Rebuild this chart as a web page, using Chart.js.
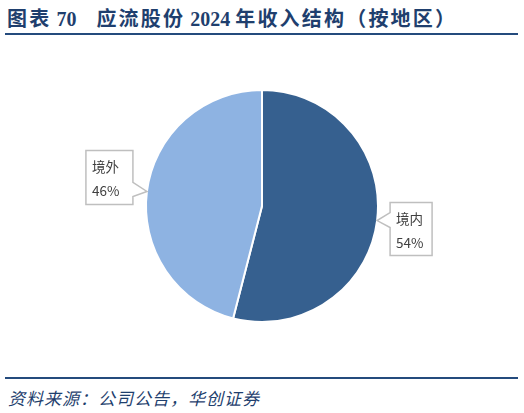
<!DOCTYPE html>
<html>
<head>
<meta charset="utf-8">
<script src="https://cdn.jsdelivr.net/npm/chart.js@4.4.1/dist/chart.umd.min.js"></script>
<style>
  html, body { margin: 0; padding: 0; background: #fff; }
  body { width: 524px; height: 413px; position: relative; overflow: hidden; }
  .title {
    position: absolute; left: 7px; top: 3px; white-space: nowrap;
    font-family: "Liberation Serif", "Noto Sans CJK SC", serif;
    font-weight: bold; font-size: 20px; color: #1f3f6e;
  }
  .title .cjk { font-family: "Noto Sans CJK SC", sans-serif; letter-spacing: 2.2px; }
  .rule { position: absolute; left: 5px; width: 513px; height: 2px; background: #244b7d; }
  .source {
    position: absolute; left: 8px; top: 385px; white-space: nowrap;
    font-family: "Noto Sans CJK SC", sans-serif; font-style: italic;
    font-size: 17px; letter-spacing: 1px; color: #1f3f6e;
  }
  #wrap { position: absolute; left: 0; top: 40px; width: 524px; height: 332px; }
</style>
</head>
<body>
<div class="title"><span class="cjk">图表</span>&nbsp;70&nbsp;&nbsp;&nbsp;&nbsp;<span class="cjk">应流股份</span>&nbsp;2024&nbsp;<span class="cjk">年收入结构（按地区）</span></div>
<div class="rule" style="top:33px"></div>
<div id="wrap"><canvas id="myChart"></canvas></div>
<div class="rule" style="top:377px"></div>
<div class="source">资料来源：公司公告，华创证券</div>
<script>
var categories = ['境内', '境外'];
var shares = [54, 46];
var colors = ['#36608f', '#8eb3e2'];

// callout boxes: offset of box from the slice edge point, and size
var boxStyle = [
  { dx: 13, dy: -18, w: 42, h: 53, side: 'right' },
  { dx: -14, dy: -41, w: 47, h: 54, side: 'left' }
];

var calloutPlugin = {
  id: 'callouts',
  afterDatasetsDraw: function (chart) {
    var ctx = chart.ctx;
    var meta = chart.getDatasetMeta(0);
    meta.data.forEach(function (arc, i) {
      var mid = (arc.startAngle + arc.endAngle) / 2;
      var tx = arc.x + Math.cos(mid) * arc.outerRadius;
      var ty = arc.y + Math.sin(mid) * arc.outerRadius;
      var s = boxStyle[i];
      var left = s.side === 'right' ? tx + s.dx : tx + s.dx - s.w;
      var top = ty + s.dy;
      var py = ty - top;
      ctx.save();
      ctx.beginPath();
      if (s.side === 'right') {
        ctx.moveTo(left, top);
        ctx.lineTo(left + s.w, top);
        ctx.lineTo(left + s.w, top + s.h);
        ctx.lineTo(left, top + s.h);
        ctx.lineTo(left, top + py + 7);
        ctx.lineTo(tx, ty);
        ctx.lineTo(left, top + py - 8);
        ctx.closePath();
      } else {
        ctx.moveTo(left, top);
        ctx.lineTo(left + s.w, top);
        ctx.lineTo(left + s.w, top + py - 9);
        ctx.lineTo(tx, ty);
        ctx.lineTo(left + s.w, top + py + 5);
        ctx.lineTo(left + s.w, top + s.h);
        ctx.lineTo(left, top + s.h);
        ctx.closePath();
      }
      ctx.fillStyle = '#ffffff';
      ctx.fill();
      ctx.lineWidth = 1.5;
      ctx.strokeStyle = '#bfbfbf';
      ctx.stroke();
      ctx.fillStyle = '#404040';
      ctx.font = '13.5px "Noto Sans CJK SC", sans-serif';
      ctx.textBaseline = 'middle';
      ctx.textAlign = 'left';
      ctx.fillText(chart.data.labels[i], left + 6, top + 16);
      ctx.fillText(chart.data.datasets[0].data[i] + '%', left + 6, top + 40);
      ctx.restore();
    });
  }
};

var ctx = document.getElementById('myChart').getContext('2d');
var myChart = new Chart(ctx, {
  type: 'pie',
  data: {
    labels: categories,
    datasets: [{
      data: shares,
      backgroundColor: colors,
      borderColor: '#ffffff',
      borderWidth: 2
    }]
  },
  options: {
    responsive: true,
    maintainAspectRatio: false,
    animation: false,
    layout: { padding: 49 },
    plugins: {
      legend: { display: false },
      tooltip: { enabled: false }
    }
  },
  plugins: [calloutPlugin]
});
</script>
</body>
</html>
